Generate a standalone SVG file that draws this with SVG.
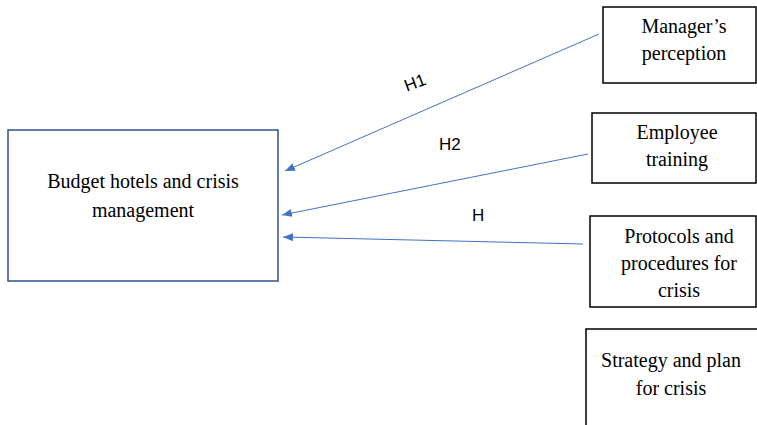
<svg xmlns="http://www.w3.org/2000/svg" width="757" height="425" viewBox="0 0 757 425">
<defs>
<marker id="ah" markerWidth="10" markerHeight="8" refX="10" refY="4" orient="auto" markerUnits="userSpaceOnUse">
<path d="M0,0 L10,4 L0,8 Z" fill="#4472C4"/>
</marker>
<style>
.t{font-family:"Liberation Serif","Times New Roman",serif;font-size:20px;fill:#000;text-anchor:middle}
.l{font-family:"Liberation Sans",Arial,sans-serif;font-size:17px;fill:#000}
.bx{fill:#fff;stroke:#000;stroke-width:1.5}
.c{stroke:#4472C4;stroke-width:1;fill:none;marker-end:url(#ah)}
</style>
</defs>
<rect width="757" height="425" fill="#fff"/>
<g id="connectors">
<line class="c" x1="599" y1="34" x2="285" y2="171"/>
<line class="c" x1="588" y1="154" x2="282" y2="215"/>
<line class="c" x1="583" y1="244" x2="283" y2="237"/>
<text class="l" transform="translate(417,88) rotate(-20)" text-anchor="middle">H1</text>
<text class="l" x="439" y="150">H2</text>
<text class="l" x="472" y="221">H</text>
</g>
<g id="budget">
<rect x="8" y="130" width="270" height="151" fill="#fff" stroke="#2F528F" stroke-width="1.5"/>
<text class="t" x="143" y="188">Budget hotels and crisis</text>
<text class="t" x="143" y="217">management</text>
</g>
<g id="manager">
<rect class="bx" x="603" y="7" width="153" height="76"/>
<text class="t" x="684" y="33">Manager’s</text>
<text class="t" x="684" y="60">perception</text>
</g>
<g id="employee">
<rect class="bx" x="592" y="113" width="164" height="70"/>
<text class="t" x="677" y="139">Employee</text>
<text class="t" x="677" y="166">training</text>
</g>
<g id="protocols">
<rect class="bx" x="590" y="216" width="166" height="91"/>
<text class="t" x="679" y="243">Protocols and</text>
<text class="t" x="679" y="270">procedures for</text>
<text class="t" x="679" y="297">crisis</text>
</g>
<g id="strategy">
<rect class="bx" x="586" y="329" width="200" height="120"/>
<text class="t" x="671" y="367">Strategy and plan</text>
<text class="t" x="671" y="395">for crisis</text>
</g>
</svg>
